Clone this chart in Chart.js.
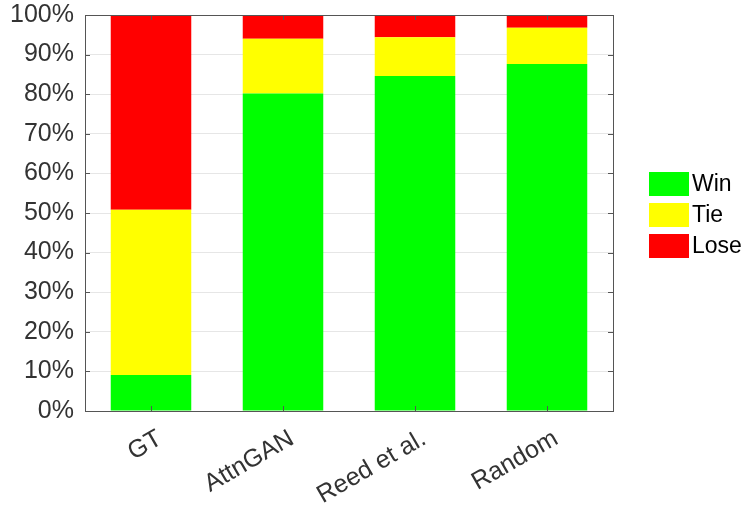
<!DOCTYPE html>
<html>
<head>
<meta charset="utf-8">
<script src="https://cdn.jsdelivr.net/npm/chart.js@4/dist/chart.umd.min.js"></script>
<style>
html,body{margin:0;padding:0;background:#fff}
</style>
</head>
<body>
<canvas id="c" width="744" height="506"></canvas>
<script>
// data (percent)
const categories = ['GT', 'AttnGAN', 'Reed et al.', 'Random'];
const winData  = [9.1, 80.2, 84.6, 87.6];
const tieData  = [41.7, 13.8, 9.8, 9.2];
const loseData = [49.2, 6.0, 5.6, 3.2];
const yTickStep = 10;

const FONT = 'Liberation Sans, Arial, sans-serif';

// frame + inward tick marks like the original
const framePlugin = {
    id: 'frame',
    afterDatasetsDraw(chart) {
        const {ctx, chartArea: a, scales} = chart;
        ctx.save();
        ctx.strokeStyle = '#555';
        ctx.lineWidth = 1;
        const tl = 5;
        ctx.beginPath();
        scales.y.ticks.forEach((t, i) => {
            const y = Math.round(scales.y.getPixelForTick(i)) + 0.5;
            ctx.moveTo(a.left, y); ctx.lineTo(a.left + tl, y);
            ctx.moveTo(a.right, y); ctx.lineTo(a.right - tl, y);
        });
        categories.forEach((c, i) => {
            const x = Math.round(scales.x.getPixelForTick(i)) + 0.5;
            ctx.moveTo(x, a.bottom); ctx.lineTo(x, a.bottom - tl);
            ctx.moveTo(x, a.top); ctx.lineTo(x, a.top + tl);
        });
        ctx.stroke();
        ctx.strokeRect(Math.round(a.left) + 0.5, Math.round(a.top) + 0.5,
                       Math.round(a.right - a.left), Math.round(a.bottom - a.top));
        ctx.restore();
    }
};

// legend on the right, boxes and names taken from the datasets
const legendPlugin = {
    id: 'sideLegend',
    afterDraw(chart) {
        const ctx = chart.ctx;
        const a = chart.chartArea;
        const bx = a.right + 36, bw = 40, bh = 24, step = 31;
        const top0 = (a.top + a.bottom) / 2 - (step * 2 + bh) / 2 + 2;
        ctx.save();
        ctx.font = '23px ' + FONT;
        ctx.textBaseline = 'middle';
        chart.data.datasets.forEach((ds, i) => {
            const y = top0 + i * step;
            ctx.fillStyle = ds.backgroundColor;
            ctx.fillRect(bx, y, bw, bh);
            ctx.fillStyle = '#000';
            ctx.fillText(ds.label, bx + bw + 3, y + bh / 2 + 1);
        });
        ctx.restore();
    }
};

new Chart(document.getElementById('c'), {
    type: 'bar',
    data: {
        labels: categories,
        datasets: [
            {label: 'Win',  data: winData,  backgroundColor: '#00ff00', borderWidth: 0},
            {label: 'Tie',  data: tieData,  backgroundColor: '#ffff00', borderWidth: 0},
            {label: 'Lose', data: loseData, backgroundColor: '#ff0000', borderWidth: 0}
        ]
    },
    options: {
        responsive: false,
        animation: false,
        layout: {padding: {top: 15, right: 131, left: 0, bottom: 0}},
        datasets: {bar: {categoryPercentage: 1, barPercentage: 0.61}},
        plugins: {
            tooltip: {enabled: false},
            legend: {display: false}
        },
        scales: {
            x: {
                stacked: true,
                grid: {display: false},
                border: {display: false},
                ticks: {
                    color: '#333', font: {family: FONT, size: 25},
                    minRotation: 30, maxRotation: 30, padding: 5,
                    labelOffset: 9
                },
                afterFit(s) { s.height = 95; s.paddingLeft = 0; s.paddingRight = 0; }
            },
            y: {
                stacked: true,
                min: 0, max: 100,
                grid: {color: '#e6e6e6', drawTicks: false},
                border: {display: false},
                ticks: {
                    stepSize: yTickStep,
                    color: '#333', font: {family: FONT, size: 25},
                    padding: 11,
                    callback: v => v + '%'
                },
                afterFit(s) { s.width = 85; s.paddingTop = 0; s.paddingBottom = 0; }
            }
        }
    },
    plugins: [framePlugin, legendPlugin]
});
</script>
</body>
</html>
